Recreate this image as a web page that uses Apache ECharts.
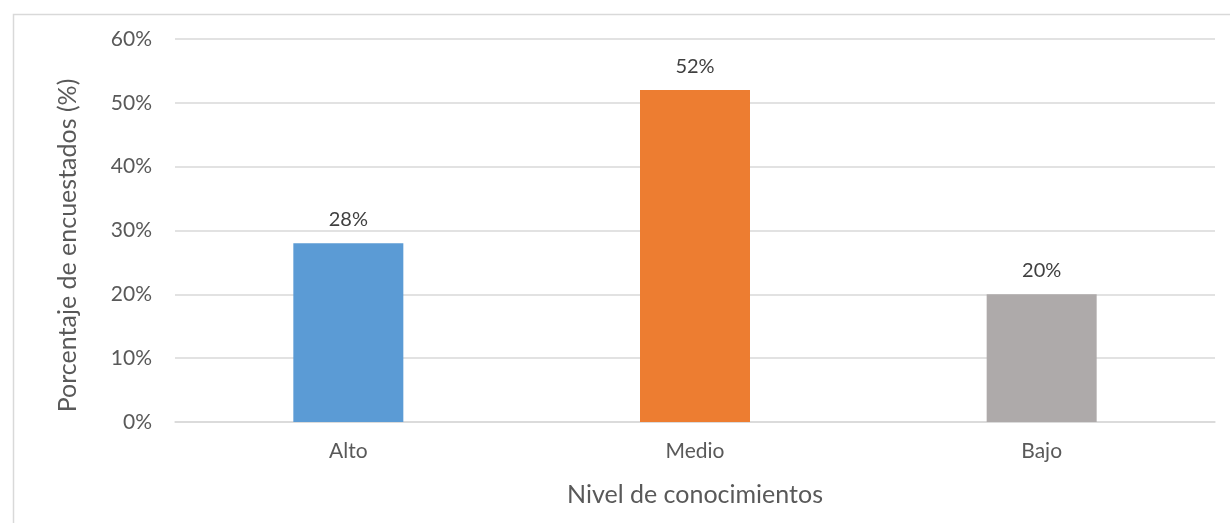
<!DOCTYPE html>
<html>
<head>
<meta charset="utf-8">
<script src="https://cdn.jsdelivr.net/npm/echarts@6/dist/echarts.min.js"></script>
<style>
  html, body { margin: 0; padding: 0; background: #fff; }
  #chart { width: 1230px; height: 523px; }
</style>
</head>
<body>
<div id="chart"></div>
<script>
// datos
var categorias = ['Alto', 'Medio', 'Bajo'];
var porcentajes = [28, 52, 20];
var colores = ['#5B9BD5', '#ED7D31', '#AEAAAA'];
var ticksY = [0, 10, 20, 30, 40, 50, 60];

var chart = echarts.init(document.getElementById('chart'));
var fuente = 'Lato';
var gris = '#595959';

var option = {
    animation: false,
    backgroundColor: '#fff',
    graphic: [{
        type: 'rect',
        left: 11, top: 12,
        shape: { width: 1240, height: 600 },
        style: { fill: 'none', stroke: '#D9D9D9', lineWidth: 1.5 },
        silent: true
    }],
    grid: { left: 175, right: 15, top: 39, bottom: 101 },
    xAxis: {
        type: 'category',
        data: categorias,
        name: 'Nivel de conocimientos',
        nameLocation: 'middle',
        nameGap: 60,
        nameTextStyle: { color: gris, fontSize: 25, fontFamily: fuente },
        axisLine: { lineStyle: { color: '#D9D9D9', width: 1.5 } },
        axisTick: { show: false },
        axisLabel: { color: gris, fontSize: 21, fontFamily: fuente, margin: 19 }
    },
    yAxis: {
        type: 'value',
        min: ticksY[0],
        max: ticksY[ticksY.length - 1],
        interval: 10,
        name: 'Porcentaje de encuestados (%)',
        nameLocation: 'middle',
        nameGap: 95,
        nameTextStyle: { color: gris, fontSize: 25, fontFamily: fuente, padding: [0, 30, 0, 0] },
        axisLine: { show: false },
        axisTick: { show: false },
        splitLine: { lineStyle: { color: '#D9D9D9', width: 1.5 } },
        axisLabel: { color: gris, fontSize: 21, fontFamily: fuente, margin: 23, formatter: '{value}%' }
    },
    series: [{
        type: 'bar',
        barWidth: 110,
        data: porcentajes.map(function (v, i) {
            return { value: v, itemStyle: { color: colores[i] } };
        }),
        label: {
            show: true,
            position: 'top',
            distance: 14,
            color: '#404040',
            fontSize: 20,
            fontFamily: fuente,
            formatter: '{c}%'
        }
    }]
};

chart.setOption(option);
</script>
</body>
</html>
